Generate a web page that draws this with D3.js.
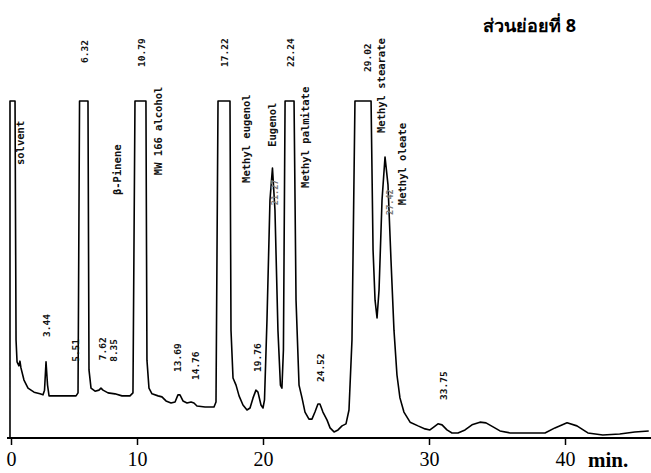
<!DOCTYPE html>
<html>
<head>
<meta charset="utf-8">
<script src="https://cdn.jsdelivr.net/npm/d3@7"></script>
<style>
  body { margin: 0; background: #fff; }
  svg { display: block; }
</style>
</head>
<body>
<svg class="chart" width="651" height="473"></svg>
<script>
// chart minutes (as printed on the axis) and detector signal, top of scale = 100
const traceTime = [-0.08, -0.08, 0.32, 0.40, 0.48, 0.63, 0.71, 0.79, 1.03, 1.35, 1.83, 2.30, 2.54, 2.66, 2.78, 2.90, 3.02, 3.89, 5.16, 5.32, 5.44, 6.11, 6.19, 6.35, 6.67, 6.98, 7.14, 7.30, 7.70, 8.25, 8.81, 9.44, 9.68, 9.84, 10.71, 10.79, 10.95, 11.19, 11.67, 11.98, 12.30, 12.70, 13.02, 13.25, 13.41, 13.65, 13.97, 14.29, 14.52, 14.76, 15.40, 16.11, 16.27, 16.43, 17.38, 17.46, 17.62, 17.86, 18.10, 18.41, 18.73, 18.97, 19.21, 19.44, 19.60, 19.84, 20.00, 20.09, 20.24, 20.42, 20.57, 20.72, 20.90, 21.05, 21.14, 21.23, 21.33, 21.87, 21.99, 22.17, 22.35, 22.53, 22.77, 22.95, 23.13, 23.31, 23.43, 23.61, 23.86, 24.04, 24.28, 24.52, 24.76, 25.00, 25.18, 25.36, 25.54, 26.51, 26.63, 26.75, 26.87, 26.99, 27.17, 27.35, 27.53, 27.71, 27.89, 28.07, 28.25, 28.49, 28.86, 29.34, 29.76, 30.07, 30.37, 30.66, 30.96, 31.32, 31.69, 32.13, 32.65, 33.16, 33.75, 34.19, 34.71, 35.22, 35.96, 37.06, 38.53, 39.26, 40.15, 40.88, 41.69, 42.79, 44.04, 45.15, 46.18];
const traceSignal = [0, 100, 100, 29.1, 22.6, 21.4, 22.8, 20.8, 17.2, 14.8, 13.6, 13.1, 12.8, 14.2, 22.6, 15.7, 12.5, 12.5, 12.5, 13.4, 100, 100, 20.2, 14.8, 13.9, 14.2, 14.8, 14.2, 13.4, 13.1, 12.5, 12.5, 13.4, 100, 100, 23.1, 14.8, 13.1, 12.5, 12.2, 11.0, 10.4, 10.7, 12.8, 12.8, 11.0, 10.4, 10.7, 10.4, 9.5, 9.2, 9.2, 10.7, 100, 100, 32.0, 17.8, 15.7, 12.5, 9.8, 8.3, 8.9, 11.9, 14.2, 13.6, 9.8, 8.9, 11.3, 35.0, 70.6, 80.1, 67.7, 32.0, 15.7, 14.8, 26.1, 100, 100, 40.9, 15.7, 11.9, 7.7, 5.6, 5.6, 7.7, 10.1, 10.1, 7.7, 5.3, 3.0, 1.8, 2.4, 3.6, 4.2, 8.3, 29.1, 100, 100, 55.8, 40.9, 35.6, 43.9, 70.6, 83.4, 75.1, 52.8, 32.0, 18.7, 11.9, 7.7, 4.7, 3.6, 2.7, 2.4, 3.3, 4.2, 3.9, 2.4, 1.5, 1.5, 2.4, 3.9, 4.7, 4.5, 3.3, 2.1, 1.5, 1.5, 1.5, 3.0, 4.5, 3.6, 1.5, 0.9, 1.2, 1.8, 2.1];

// printed axis is not evenly spaced, so the scale is piecewise
const axisTicks = [0, 10, 20, 30, 40];

// retention times printed above the peaks
const rtText = ["6.32", "10.79", "17.22", "22.24", "29.02", "3.44", "5.51", "7.62", "8.35", "13.69", "14.76", "19.76", "24.52", "33.75"];
const rtTime = [5.87, 10.32, 16.98, 21.63, 26.27, 2.78, 5.08, 7.30, 8.10, 13.25, 14.68, 19.60, 23.49, 31.03];
const rtLevel = [111.3, 110.1, 110.1, 110.1, 108.6, 30.0, 22.6, 23.1, 22.6, 19.6, 17.2, 19.6, 16.6, 11.3];

// compound names
const nameText = ["solvent", "β-Pinene", "MW 166 alcohol", "Methyl eugenol", "Eugenol", "Methyl palmitate", "Methyl stearate", "Methyl oleate"];
const nameTime = [0.71, 8.41, 11.67, 18.65, 20.54, 22.53, 27.11, 28.37];
const nameLevel = [81.0, 72.1, 78.0, 75.7, 86.4, 74.2, 90.5, 69.1];

// faint times printed over the trace
const faintText = ["21.27", "27.42"];
const faintTime = [20.72, 27.65];
const faintLevel = [69.1, 66.2];

const svg = d3.select(".chart");

const x = d3.scaleLinear()
  .domain([0, 10, 20, 30, 40, 46.2])
  .range([11, 137, 263, 429, 565, 649]);
const y = d3.scaleLinear().domain([0, 100]).range([438, 101]);

// x axis
const axis = svg.append("g")
  .attr("transform", `translate(0, ${y(0)})`)
  .call(d3.axisBottom(x).tickValues(axisTicks).tickSize(7).tickFormat(d3.format("d")));
axis.select(".domain").remove();
axis.selectAll(".tick line").attr("stroke", "#000").attr("stroke-width", 1.5);
axis.selectAll(".tick text")
  .attr("y", 14)
  .style("font-family", "'Liberation Serif', 'DejaVu Serif', serif")
  .style("font-size", "20px")
  .attr("fill", "#000");

svg.append("line")
  .attr("x1", 7).attr("x2", 651)
  .attr("y1", y(0)).attr("y2", y(0))
  .attr("stroke", "#000").attr("stroke-width", 2);

svg.append("text")
  .attr("x", 588).attr("y", 467)
  .style("font-family", "'Liberation Serif', serif")
  .style("font-size", "21px")
  .style("font-weight", "bold")
  .text("min.");

// the trace
const line = d3.line().x(d => x(d[0])).y(d => y(d[1]));
svg.append("path")
  .attr("d", line(d3.zip(traceTime, traceSignal)))
  .attr("fill", "none")
  .attr("stroke", "#000")
  .attr("stroke-width", 1.6)
  .attr("stroke-linejoin", "round");

// vertical labels, reading upward, bottom at (time, level)
function vlabels(texts, times, levels, size, color) {
  svg.append("g").selectAll("text")
    .data(texts)
    .join("text")
    .attr("transform", (d, i) => `translate(${x(times[i])}, ${y(levels[i])}) rotate(-90)`)
    .attr("dominant-baseline", "central")
    .style("font-family", "'DejaVu Sans Mono', 'Liberation Mono', monospace")
    .style("font-size", size + "px")
    .style("font-weight", "bold")
    .attr("fill", color)
    .text(d => d);
}

vlabels(rtText, rtTime, rtLevel, 9.5, "#111");
vlabels(nameText, nameTime, nameLevel, 10.5, "#111");
vlabels(faintText, faintTime, faintLevel, 8.5, "#777");

svg.append("text")
  .attr("x", 483).attr("y", 32)
  .style("font-family", "'Noto Sans', 'DejaVu Sans', sans-serif")
  .style("font-size", "18px")
  .style("font-weight", "bold")
  .text("ส่วนย่อยที่ 8");
</script>
</body>
</html>
